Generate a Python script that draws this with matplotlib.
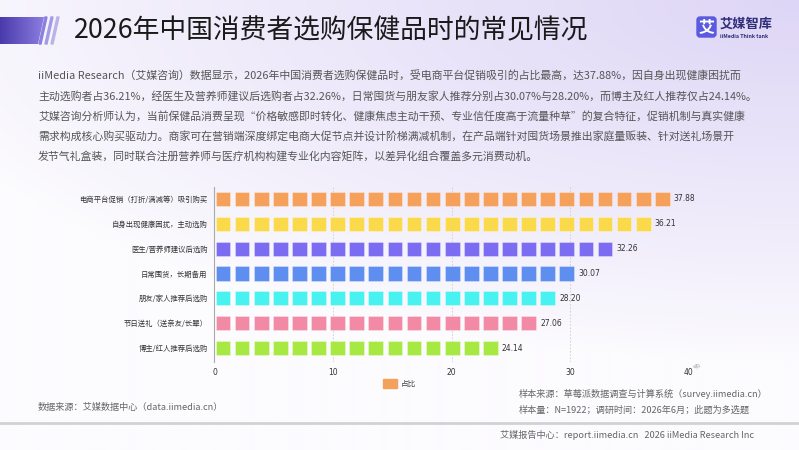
import math
import numpy as np
import matplotlib
matplotlib.use("Agg")
import matplotlib.pyplot as plt
from matplotlib.patches import Rectangle, Polygon, FancyBboxPatch

plt.rcParams['font.family'] = ['Noto Sans CJK SC', 'DejaVu Sans']

# ---------------- data ----------------
categories = [
    "电商平台促销（打折/满减等）吸引购买",
    "自身出现健康困扰，主动选购",
    "医生/营养师建议后选购",
    "日常囤货，长期备用",
    "朋友/家人推荐后选购",
    "节日送礼（送亲友/长辈）",
    "博主/红人推荐后选购",
]
values = [37.88, 36.21, 32.26, 30.07, 28.20, 27.06, 24.14]
colors = ["#F5A15C", "#FAD94A", "#7C6CF2", "#5E8EF0", "#48F2F0", "#F28AA5", "#A8E843"]
xticks = [0, 10, 20, 30, 40]
legend_label = "占比"

title = "2026年中国消费者选购保健品时的常见情况"
paragraph = [
    "iiMedia Research（艾媒咨询）数据显示，2026年中国消费者选购保健品时，受电商平台促销吸引的占比最高，达37.88%，因自身出现健康困扰而",
    "主动选购者占36.21%，经医生及营养师建议后选购者占32.26%，日常囤货与朋友家人推荐分别占30.07%与28.20%，而博主及红人推荐仅占24.14%。",
    "艾媒咨询分析师认为，当前保健品消费呈现“价格敏感即时转化、健康焦虑主动干预、专业信任度高于流量种草”的复合特征，促销机制与真实健康",
    "需求构成核心购买驱动力。商家可在营销端深度绑定电商大促节点并设计阶梯满减机制，在产品端针对囤货场景推出家庭量贩装、针对送礼场景开",
    "发节气礼盒装，同时联合注册营养师与医疗机构构建专业化内容矩阵，以差异化组合覆盖多元消费动机。",
]
source_left = "数据来源：艾媒数据中心（data.iimedia.cn）"
source_right1 = "样本来源：草莓派数据调查与计算系统（survey.iimedia.cn）"
source_right2 = "样本量：N=1922；调研时间：2026年6月；此题为多选题"
footer = "艾媒报告中心：report.iimedia.cn   2026 iiMedia Research Inc"

# ---------------- figure ----------------
W, H = 799, 450
fig = plt.figure(figsize=(W / 100, H / 100), dpi=100)

def fx(x):
    return x / W

def fy(y):
    return 1 - y / H

# background gradient
bg = fig.add_axes([0, 0, 1, 1], zorder=-10)
bg.set_xlim(0, W)
bg.set_ylim(H, 0)
bg.axis('off')
xx, yy = np.meshgrid(np.linspace(0, 1, 400), np.linspace(0, 1, 225))
d = np.sqrt(((1 - xx) / 1.15) ** 2 + (yy / 0.8) ** 2)
f = np.clip(1 - d, 0, 1) ** 0.9
base = np.array([252, 251, 254]) / 255
lav = np.array([222, 214, 246]) / 255
img = base[None, None, :] * (1 - f[..., None]) + lav[None, None, :] * f[..., None]
bg.imshow(img, extent=[0, W, H, 0], aspect='auto', interpolation='bilinear')

# title decoration
grad = np.linspace(0, 1, 100)[None, :]
c1 = np.array([72, 58, 170]) / 255
c2 = np.array([140, 125, 225]) / 255
bar_img = c1[None, None, :] * (1 - grad[..., None]) + c2[None, None, :] * grad[..., None]
im = bg.imshow(bar_img, extent=[0, 44, 44, 17], aspect='auto', zorder=1)
clip = Polygon([[0, 17], [44, 17], [38, 44], [0, 44]], closed=True, transform=bg.transData)
im.set_clip_path(clip)
for i, xs in enumerate([41, 47, 53]):
    col = ["#8C7FE0", "#A49AE6", "#B9B3E8"][i]
    bg.add_patch(Polygon([[xs + 4, 17], [xs + 6, 17], [xs, 44], [xs - 2, 44]],
                         closed=True, color=col, zorder=1))

fig.text(fx(74), fy(31), title, fontsize=19.3, color="#1a1a1a", va='center', ha='left')

# logo
bg.add_patch(FancyBboxPatch((697, 17), 19, 20, boxstyle="round,pad=0,rounding_size=3",
                            color="#5B5BE0", zorder=2))
fig.text(fx(706.5), fy(27), "艾", fontsize=11.5, color="white", ha='center', va='center',
         fontweight='bold')
fig.text(fx(720), fy(24), "艾媒智库", fontsize=9.5, color="#2E2E7A", ha='left', va='center',
         fontweight='bold')
fig.text(fx(720), fy(37), "iiMedia Think tank", fontsize=3.8, color="#2E2E7A", ha='left',
         va='center', fontweight='bold')

# paragraph
for i, line in enumerate(paragraph):
    fig.text(fx(38), fy(76 + 20 * i), line, fontsize=7.85, color="#555555", ha='left',
             va='center')

# ---------------- chart ----------------
x0_px, x40_px = 214.5, 689.0
top_px, bot_px = 187.0, 362.0
ax = fig.add_axes([fx(x0_px), fy(bot_px), (x40_px - x0_px) / W, (bot_px - top_px) / H])
ax.patch.set_alpha(0)
ax.set_xlim(0, 40)
n = len(categories)
row_px = 24.9
ax.set_ylim(n - 1 + (bot_px - 348) / row_px, -(199 - top_px) / row_px)

step = 1.61      # data units per square (incl. gap)
sq = 1.24        # square width in data units
offset = 0.1
sq_h = 0.575
for i, (v, c) in enumerate(zip(values, colors)):
    cnt = math.ceil(v / step)
    lefts = offset + step * np.arange(cnt)
    ax.barh([i] * cnt, [sq] * cnt, left=lefts, height=sq_h, color=c,
            edgecolor=(1, 1, 1, 0.35), linewidth=0.6, zorder=3)
    ax.annotate(f"{v:.2f}", xy=(lefts[-1] + sq, i), xytext=(3, 0), textcoords='offset points',
                fontsize=5.5, color="#333333", va='center', ha='left',
                family=['DejaVu Sans'])

ax.set_yticks(range(n))
ax.set_yticklabels(categories, fontsize=5.3, color="#333333")
ax.set_xticks(xticks)
ax.set_xticklabels([str(t) for t in xticks], fontsize=5.5, color="#333333",
                   family=['DejaVu Sans'])
ax.tick_params(axis='both', length=0)
ax.tick_params(axis='y', pad=5)
ax.tick_params(axis='x', pad=4)
for s in ['top', 'right', 'bottom']:
    ax.spines[s].set_visible(False)
ax.spines['left'].set_color("#AAAAAA")
ax.spines['left'].set_linewidth(0.8)
for t in xticks[1:]:
    ax.axvline(t, color="#CCCCCC", linestyle=(0, (2, 2)), linewidth=0.6, zorder=1)
ax.text(40.7, n - 1 + 0.75, "%", fontsize=4.5, color="#777777", rotation=45,
        ha='center', va='center', clip_on=False)

# legend
bg.add_patch(Rectangle((383, 379), 14, 9, color=colors[0], zorder=2))
fig.text(fx(401), fy(383.5), legend_label, fontsize=5.5, color="#444444", ha='left',
         va='center')

# sources
fig.text(fx(38), fy(407), source_left, fontsize=6.6, color="#666666", ha='left', va='center')
fig.text(fx(519), fy(394), source_right1, fontsize=6.6, color="#666666", ha='left',
         va='center')
fig.text(fx(519), fy(410), source_right2, fontsize=6.6, color="#666666", ha='left',
         va='center')

# footer line
bg.plot([0, W], [423, 423], color="#D2D2D2", linewidth=2, zorder=2)
fig.text(fx(754), fy(435), footer, fontsize=6.6, color="#666666", ha='right', va='center')

fig.savefig("out.png", dpi=100)
